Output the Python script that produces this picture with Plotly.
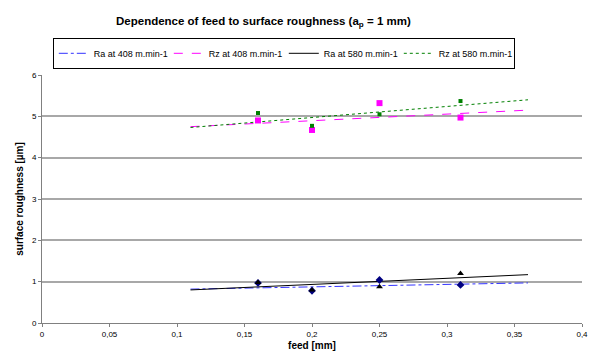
import plotly.graph_objects as go

feed = [0.16, 0.20, 0.25, 0.31]
ra_408 = [0.97, 0.78, 1.04, 0.92]
rz_408 = [4.90, 4.67, 5.32, 4.97]
ra_580 = [0.98, 0.80, 0.88, 1.20]
rz_580 = [5.08, 4.77, 5.05, 5.37]

trend_x = [0.11, 0.36]
trend_ra_408 = [0.82, 0.97]
trend_rz_408 = [4.75, 5.15]
trend_ra_580 = [0.80, 1.17]
trend_rz_580 = [4.73, 5.40]

names = ["Ra at 408 m.min-1", "Rz at 408 m.min-1", "Ra at 580 m.min-1", "Rz at 580 m.min-1"]

fig = go.Figure()

series = [
    (names[0], ra_408, trend_ra_408, "#3333FF", "dashdot", "diamond", "#000080", 6),
    (names[1], rz_408, trend_rz_408, "#FF00FF", "dash", "square", "#FF00FF", 6),
    (names[2], ra_580, trend_ra_580, "#000000", "solid", "triangle-up", "#000000", 6),
    (names[3], rz_580, trend_rz_580, "#008000", "dot", "square", "#008000", 4),
]

for name, vals, tr, lc, dash, sym, mc, ms in series:
    fig.add_trace(go.Scatter(x=trend_x, y=tr, mode="lines", name=name,
                             line=dict(color=lc, dash=dash, width=1)))

for name, vals, tr, lc, dash, sym, mc, ms in series:
    fig.add_trace(go.Scatter(x=feed, y=vals, mode="markers", showlegend=False,
                             marker=dict(symbol=sym, color=mc, size=ms)))

fig.update_layout(
    width=596, height=363,
    margin=dict(l=42, r=8, t=75, b=40),
    paper_bgcolor="white", plot_bgcolor="white",
    font=dict(family="Liberation Sans, Arial, sans-serif", size=9, color="#000000"),
    separators=", ",
    title=dict(text="<b>Dependence of feed to surface roughness (a<sub>p</sub> = 1 mm)</b>",
               x=0.41, xref="paper", xanchor="center", y=0.942, yanchor="middle",
               font=dict(size=11.5)),
    legend=dict(orientation="h", x=0.02, y=1.15, xanchor="left", yanchor="top",
                bordercolor="#000000", borderwidth=1, font=dict(size=9),
                itemwidth=30, entrywidth=70, entrywidthmode="pixels"),
    showlegend=True,
)

fig.update_xaxes(range=[0, 0.4], dtick=0.05, tick0=0, showgrid=False,
                 showline=True, linecolor="#808080", linewidth=1,
                 ticks="outside", ticklen=3, tickcolor="#808080",
                 tickfont=dict(size=8), zeroline=False,
                 title=dict(text="<b>feed [mm]</b>", font=dict(size=10), standoff=4))
fig.update_yaxes(range=[0, 6], dtick=1, showgrid=True, gridcolor="#A8A8A8", gridwidth=1.5,
                 showline=True, linecolor="#808080", linewidth=1,
                 ticks="outside", ticklen=3, tickcolor="#808080",
                 tickfont=dict(size=8), zeroline=False,
                 title=dict(text="<b>surface roughness [µm]</b>", font=dict(size=10), standoff=6))

fig.write_html("out.html")
